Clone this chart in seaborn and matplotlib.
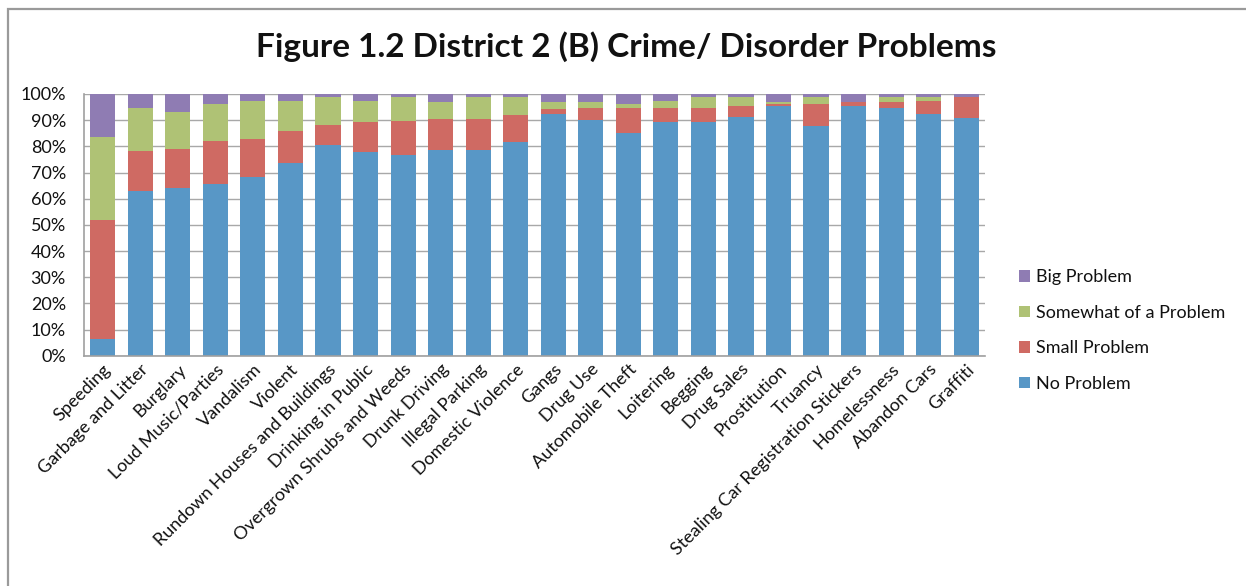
import numpy as np
import pandas as pd
import matplotlib
matplotlib.use("Agg")
import matplotlib.pyplot as plt
from matplotlib.patches import Rectangle, Patch
import seaborn as sns

categories = [
    "Speeding", "Garbage and Litter", "Burglary", "Loud Music/Parties",
    "Vandalism", "Violent", "Rundown Houses and Buildings", "Drinking in Public",
    "Overgrown Shrubs and Weeds", "Drunk Driving", "Illegal Parking",
    "Domestic Violence", "Gangs", "Drug Use", "Automobile Theft", "Loitering",
    "Begging", "Drug Sales", "Prostitution", "Truancy",
    "Stealing Car Registration Stickers", "Homelessness", "Abandon Cars", "Graffiti",
]

# Share of respondents (%) per response level
no_problem = [6.2, 62.8, 64.0, 65.5, 68.4, 73.8, 80.6, 77.8, 76.8, 78.6, 78.6, 81.5,
              92.5, 90.1, 85.2, 89.4, 89.4, 91.2, 95.5, 87.9, 95.5, 94.5, 92.2, 90.8]
small_problem = [45.8, 15.4, 15.0, 16.5, 14.4, 12.1, 7.6, 11.6, 13.0, 11.8, 11.8, 10.3,
                 1.6, 4.4, 9.3, 5.4, 5.4, 4.3, 0.5, 8.1, 1.5, 2.5, 5.3, 7.9]
somewhat_problem = [31.6, 16.6, 14.1, 14.0, 14.7, 11.6, 10.5, 8.1, 8.9, 6.6, 8.3, 6.9,
                    2.9, 2.5, 1.5, 2.7, 3.9, 3.2, 1.0, 2.7, 0.0, 1.7, 1.2, 0.0]
big_problem = [16.4, 5.2, 6.9, 4.0, 2.5, 2.5, 1.3, 2.5, 1.3, 3.0, 1.3, 1.3,
               3.0, 3.0, 4.0, 2.5, 1.3, 1.3, 3.0, 1.3, 3.0, 1.3, 1.3, 1.3]

series_names = ["No Problem", "Small Problem", "Somewhat of a Problem", "Big Problem"]
series_colors = ["#5897C6", "#CF6A63", "#AFC275", "#8F7CB3"]

sns.set_theme(style="white")
plt.rcParams["font.family"] = ["Lato", "DejaVu Sans"]

df = pd.DataFrame({
    "category": categories,
    "No Problem": no_problem,
    "Small Problem": small_problem,
    "Somewhat of a Problem": somewhat_problem,
    "Big Problem": big_problem,
})
stack = df[series_names].cumsum(axis=1)

fig = plt.figure(figsize=(12.46, 5.86), dpi=100)
ax = fig.add_axes([0.0674, 0.393, 0.7231, 0.4466])

# Frame around the chart area
fig.patches.append(Rectangle((8 / 1246, -0.1), 1.2, 1 - 9 / 586 + 0.1,
                             transform=fig.transFigure, fill=False,
                             edgecolor="#9A9A9A", linewidth=1.6, zorder=0))

ax.set_axisbelow(True)
ax.yaxis.grid(True, color="#A8A8A8", linewidth=1.0)
ax.xaxis.grid(False)

# Draw cumulative layers from the top of the stack downward
for name, color in reversed(list(zip(series_names, series_colors))):
    sns.barplot(x=df["category"], y=stack[name], color=color, saturation=1,
                width=0.67, ax=ax, linewidth=0, legend=False)

ax.set_ylim(0, 100)
ax.set_xlim(-0.5, len(categories) - 0.5)
ax.set_yticks(np.arange(0, 101, 10))
ax.set_yticklabels([f"{v}%" for v in range(0, 101, 10)], fontsize=13, color="#111111")
ax.tick_params(axis="y", length=0, pad=13)
ax.tick_params(axis="x", length=0, pad=4)
ax.set_xticks(range(len(categories)))
ax.set_xticklabels(categories, rotation=45, ha="right", rotation_mode="anchor",
                   fontsize=13, color="#111111")
ax.set_xlabel("")
ax.set_ylabel("")

for side in ["top", "right"]:
    ax.spines[side].set_visible(False)
for side in ["left", "bottom"]:
    ax.spines[side].set_color("#A0A0A0")
    ax.spines[side].set_linewidth(1.2)

handles = [Patch(facecolor=c, edgecolor="none", label=n)
           for n, c in reversed(list(zip(series_names, series_colors)))]
leg = fig.legend(handles=handles, loc="center left", bbox_to_anchor=(0.805, 0.436),
                 frameon=False, fontsize=13, handlelength=0.6, handleheight=0.6,
                 handletextpad=0.3, labelspacing=1.08)
for t in leg.get_texts():
    t.set_color("#111111")

fig.text(0.503, 0.92, "Figure 1.2 District 2 (B) Crime/ Disorder Problems",
         ha="center", va="center", fontsize=24, fontweight="bold", color="#111111")

fig.savefig("out.png", dpi=100)
